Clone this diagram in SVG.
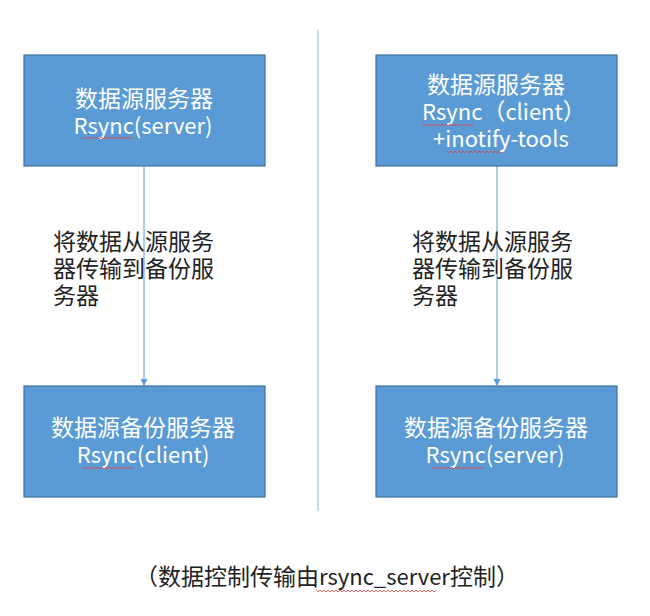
<svg xmlns="http://www.w3.org/2000/svg" width="650" height="616" viewBox="0 0 650 616">
<defs>
<style>
.box{fill:#5B9BD5;stroke:#41719C;stroke-width:1.2}
.bt{font-family:"Noto Sans CJK SC","Liberation Sans",sans-serif;font-size:23px;fill:#FFFFFF;text-anchor:middle}
.bs{font-family:"Noto Sans CJK SC","Liberation Sans",sans-serif;font-size:23px;fill:#FFFFFF}
.mt{font-family:"Noto Sans CJK SC","Liberation Sans",sans-serif;font-size:23px;fill:#222222}
.lat{font-size:22px}
.conn{stroke:#5B9BD5;stroke-width:1;fill:none}
.sq{stroke:#E0413A;stroke-width:0.8;fill:none}
</style>
<marker id="ah" markerWidth="8" markerHeight="8" refX="6" refY="4" orient="auto" markerUnits="userSpaceOnUse">
<path d="M0,0.5 L7,4 L0,7.5 Z" fill="#5B9BD5"/>
</marker>
</defs>
<rect width="650" height="616" fill="#FFFFFF"/>
<line x1="318" y1="30" x2="318" y2="511" stroke="#9DC3E6" stroke-width="1.2"/>
<g id="connectors">
<line class="conn" x1="144" y1="166" x2="144" y2="385" marker-end="url(#ah)"/>
<line class="conn" x1="497" y1="166" x2="497" y2="385" marker-end="url(#ah)"/>
</g>
<g id="n1">
<rect class="box" x="24" y="55" width="241" height="111"/>
<text class="bt" x="144" y="107">数据源服务器</text>
<text class="bt lat" x="143" y="134">Rsync(server)</text>
<path class="sq" d="M81,137 l2,2 l2,-2 l2,2 l2,-2 l2,2 l2,-2 l2,2 l2,-2 l2,2 l2,-2 l2,2 l2,-2 l2,2 l2,-2 l2,2 l2,-2 l2,2 l2,-2 l2,2 l2,-2 l2,2 l2,-2 l2,2 l2,-2 l2,2 l2,-2"/>
</g>
<g id="n2">
<rect class="box" x="376" y="55" width="241" height="111"/>
<text class="bt" x="496" y="93">数据源服务器</text>
<text class="bs" x="422" y="120"><tspan class="lat">Rsync</tspan>（<tspan class="lat">client</tspan>）</text>
<text class="bs lat" x="433" y="147">+inotify-tools</text>
<path class="sq" d="M422,124 l2,2 l2,-2 l2,2 l2,-2 l2,2 l2,-2 l2,2 l2,-2 l2,2 l2,-2 l2,2 l2,-2 l2,2 l2,-2 l2,2 l2,-2 l2,2 l2,-2 l2,2 l2,-2 l2,2 l2,-2 l2,2 l2,-2 l2,2 l2,-2"/>
<path class="sq" d="M447,151 l2,2 l2,-2 l2,2 l2,-2 l2,2 l2,-2 l2,2 l2,-2 l2,2 l2,-2 l2,2 l2,-2 l2,2 l2,-2 l2,2 l2,-2 l2,2 l2,-2 l2,2 l2,-2 l2,2 l2,-2 l2,2 l2,-2 l2,2 l2,-2 l2,2"/>
</g>
<g id="n3">
<rect class="box" x="24" y="386" width="241" height="111"/>
<text class="bt" x="143" y="436">数据源备份服务器</text>
<text class="bt lat" x="143" y="463">Rsync(client)</text>
<path class="sq" d="M82,467 l2,2 l2,-2 l2,2 l2,-2 l2,2 l2,-2 l2,2 l2,-2 l2,2 l2,-2 l2,2 l2,-2 l2,2 l2,-2 l2,2 l2,-2 l2,2 l2,-2 l2,2 l2,-2 l2,2 l2,-2 l2,2 l2,-2 l2,2 l2,-2"/>
</g>
<g id="n4">
<rect class="box" x="376" y="386" width="241" height="111"/>
<text class="bt" x="496" y="436">数据源备份服务器</text>
<text class="bt lat" x="495" y="463">Rsync(server)</text>
<path class="sq" d="M432,467 l2,2 l2,-2 l2,2 l2,-2 l2,2 l2,-2 l2,2 l2,-2 l2,2 l2,-2 l2,2 l2,-2 l2,2 l2,-2 l2,2 l2,-2 l2,2 l2,-2 l2,2 l2,-2 l2,2 l2,-2 l2,2 l2,-2 l2,2 l2,-2"/>
</g>
<g id="label-left">
<text class="mt" x="53" y="250">将数据从源服务</text>
<text class="mt" x="53" y="277">器传输到备份服</text>
<text class="mt" x="53" y="304">务器</text>
</g>
<g id="label-right">
<text class="mt" x="412" y="250">将数据从源服务</text>
<text class="mt" x="412" y="277">器传输到备份服</text>
<text class="mt" x="412" y="304">务器</text>
</g>
<g id="caption">
<text class="mt" x="135" y="585">（数据控制传输由<tspan class="lat">rsync_server</tspan>控制）</text>
<path class="sq" d="M316,590 l2,2 l2,-2 l2,2 l2,-2 l2,2 l2,-2 l2,2 l2,-2 l2,2 l2,-2 l2,2 l2,-2 l2,2 l2,-2 l2,2 l2,-2 l2,2 l2,-2 l2,2 l2,-2 l2,2 l2,-2 l2,2 l2,-2 l2,2 l2,-2 l2,2 l2,-2 l2,2 l2,-2 l2,2 l2,-2 l2,2 l2,-2 l2,2 l2,-2 l2,2 l2,-2 l2,2 l2,-2 l2,2 l2,-2 l2,2 l2,-2 l2,2 l2,-2 l2,2 l2,-2 l2,2 l2,-2 l2,2 l2,-2 l2,2 l2,-2 l2,2 l2,-2 l2,2 l2,-2 l2,2 l2,-2"/>
</g>
</svg>
